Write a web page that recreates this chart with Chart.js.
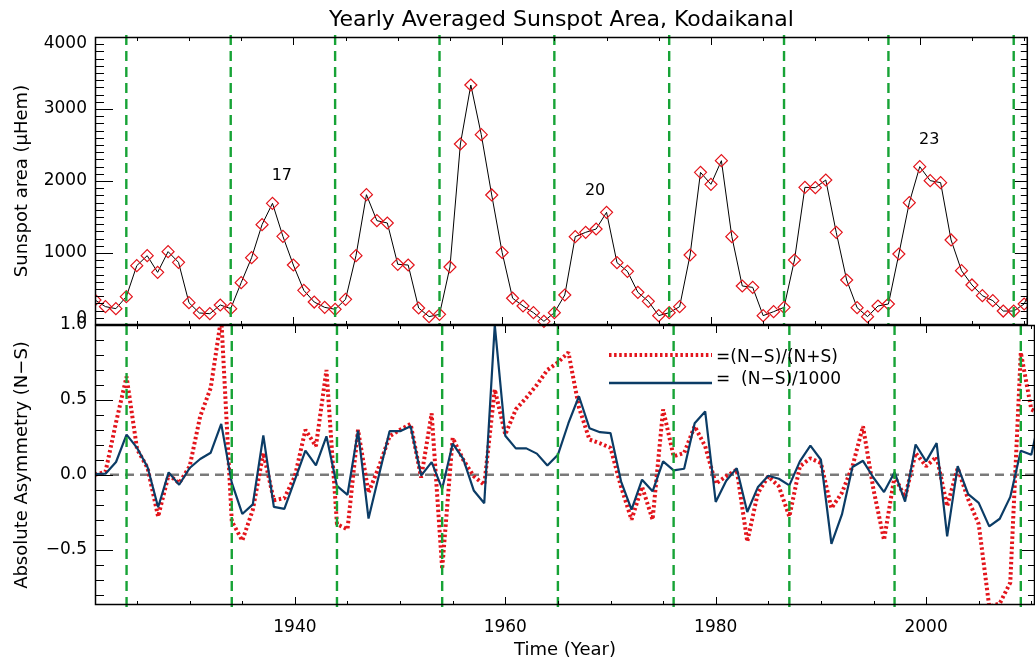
<!DOCTYPE html>
<html>
<head>
<meta charset="utf-8">
<script src="https://cdn.jsdelivr.net/npm/chart.js@4.4.0/dist/chart.umd.min.js"></script>
<style>
html, body { margin: 0; padding: 0; background: #ffffff; }
#wrap { position: relative; width: 1035px; height: 662px; overflow: hidden; }
#wrap canvas { position: absolute; left: 0; top: 0; }
</style>
</head>
<body>
<div id="wrap">
  <canvas id="top" width="1035" height="662"></canvas>
  <canvas id="bottom" width="1035" height="662"></canvas>
</div>
<script>
// ---------------- DATA ----------------
const years = [1921,1922,1923,1924,1925,1926,1927,1928,1929,1930,
  1931,1932,1933,1934,1935,1936,1937,1938,1939,1940,
  1941,1942,1943,1944,1945,1946,1947,1948,1949,1950,
  1951,1952,1953,1954,1955,1956,1957,1958,1959,1960,
  1961,1962,1963,1964,1965,1966,1967,1968,1969,1970,
  1971,1972,1973,1974,1975,1976,1977,1978,1979,1980,
  1981,1982,1983,1984,1985,1986,1987,1988,1989,1990,
  1991,1992,1993,1994,1995,1996,1997,1998,1999,2000,
  2001,2002,2003,2004,2005,2006,2007,2008,2009,2010,2011];

// Yearly averaged sunspot area (micro-hemispheres)
const sunspotArea = [347,255,227,394,824,963,731,1019,870,310,
  167,157,278,227,588,935,1394,1690,1231,833,
  481,319,245,218,356,963,1810,1449,1417,843,
  833,236,116,148,806,2514,3333,2644,1806,1007,
  372,264,171,51,171,417,1227,1287,1333,1565,
  866,745,454,329,130,171,255,972,2120,1954,
  2282,1227,542,523,130,185,245,903,1912,1907,
  2014,1287,625,241,116,264,292,986,1699,2199,
  2005,1977,1181,755,556,407,338,194,194,292,600];

// Normalised asymmetry (N-S)/(N+S)
const normAsym = [0.0,0.02,0.35,0.655,0.17,0.045,-0.28,0.0,-0.056,0.056,
  0.39,0.58,1.05,-0.31,-0.44,-0.235,0.145,-0.17,-0.157,-0.01,
  0.30,0.19,0.70,-0.33,-0.365,0.30,-0.12,0.055,0.257,0.30,
  0.34,-0.02,0.41,-0.63,0.246,0.10,-0.01,-0.067,0.57,0.268,
  0.436,0.515,0.60,0.70,0.75,0.817,0.45,0.235,0.21,0.18,
  -0.08,-0.30,-0.08,-0.30,0.436,0.123,0.145,0.324,0.19,-0.06,
  -0.01,0.034,-0.447,-0.123,-0.011,-0.078,-0.28,0.056,0.11,0.078,
  -0.224,-0.12,0.056,0.324,-0.10,-0.436,-0.011,-0.15,0.145,0.056,
  0.12,-0.21,0.045,-0.165,-0.33,-0.88,-0.86,-0.72,0.817,0.436,0.40];

// Absolute asymmetry (N-S)/1000
const absAsym = [0.005,0.007,0.085,0.268,0.179,0.05,-0.217,0.016,-0.067,0.045,
  0.105,0.147,0.34,-0.053,-0.262,-0.198,0.262,-0.215,-0.228,-0.035,
  0.161,0.063,0.257,-0.075,-0.134,0.295,-0.293,0.0,0.291,0.291,
  0.324,-0.006,0.084,-0.094,0.208,0.106,-0.105,-0.19,1.0,0.26,
  0.176,0.176,0.141,0.061,0.133,0.344,0.524,0.311,0.284,0.278,
  -0.044,-0.233,-0.033,-0.111,0.089,0.029,0.04,0.344,0.423,-0.182,
  -0.04,0.044,-0.249,-0.084,-0.007,-0.027,-0.071,0.089,0.194,0.10,
  -0.461,-0.265,0.052,0.093,-0.02,-0.116,0.017,-0.179,0.202,0.089,
  0.211,-0.412,0.058,-0.13,-0.188,-0.345,-0.294,-0.148,0.16,0.134,0.45];

// Solar cycle minima (green dashed lines)
const cycleMinima = [1924,1934,1944,1954,1965,1976,1987,1997,2009];

// Cycle number annotations
const cycleLabels = ['17','20','23'];
const cycleLabelYears = [1938.9, 1968.9, 2000.9];
const cycleLabelValues = [2070, 1860, 2570];

// Tick labels
const xTickLabels = [1940, 1960, 1980, 2000];
const areaTickLabels = [0, 1000, 2000, 3000, 4000];
const asymTickLabels = [-0.5, 0.0, 0.5, 1.0];

const legendTexts = ['=(N\u2212S)/(N+S)', '=  (N\u2212S)/1000'];

// ---------------- STYLE ----------------
const FONT = "'DejaVu Sans', 'Liberation Sans', sans-serif";
Chart.defaults.font.family = FONT;
Chart.defaults.color = '#000';
const X_MIN = 1921, X_MAX = 2010.35;
const GREEN = '#17a336';
const RED = '#e3141b';
const BLUE = '#0b3c66';

function frameAndTicks(chart, yMinor, yMajor) {
  const {ctx, chartArea: a, scales: {x, y}} = chart;
  ctx.save();
  ctx.strokeStyle = '#000';
  ctx.lineWidth = 1;
  ctx.beginPath();
  for (let v = 1925; v <= x.max; v += 5) {
    const px = Math.round(x.getPixelForValue(v)) + 0.5;
    const len = xTickLabels.includes(v) ? 8 : 4;
    ctx.moveTo(px, a.bottom); ctx.lineTo(px, a.bottom - len);
    ctx.moveTo(px, a.top); ctx.lineTo(px, a.top + len);
  }
  const kMin = Math.ceil(y.min / yMinor - 1e-9), kMax = Math.floor(y.max / yMinor + 1e-9);
  const ratio = Math.round(yMajor / yMinor);
  for (let k = kMin; k <= kMax; k++) {
    const py = Math.round(y.getPixelForValue(k * yMinor)) + 0.5;
    const major = (k % ratio === 0);
    ctx.moveTo(a.left, py); ctx.lineTo(a.left + (major ? 18 : 9), py);
    ctx.moveTo(a.right, py); ctx.lineTo(a.right - (major ? 13 : 7), py);
  }
  ctx.stroke();
  ctx.lineWidth = 1.5;
  ctx.strokeRect(a.left + 0.5, a.top + 0.5, a.right - a.left - 1, a.bottom - a.top - 1);
  ctx.restore();
}

function greenLines(chart, extTop, extBottom) {
  const {ctx, chartArea: a, scales: {x}} = chart;
  ctx.save();
  ctx.strokeStyle = GREEN;
  ctx.lineWidth = 2.4;
  ctx.setLineDash([10, 6]);
  cycleMinima.forEach(yr => {
    const px = x.getPixelForValue(yr);
    ctx.beginPath();
    ctx.moveTo(px, a.top - extTop);
    ctx.lineTo(px, a.bottom + extBottom);
    ctx.stroke();
  });
  ctx.restore();
}

const topPlugin = {
  id: 'topPanel',
  afterDatasetsDraw(chart) {
    greenLines(chart, 2, 0);
    const {ctx, scales: {x, y}} = chart;
    ctx.save();
    ctx.fillStyle = '#000';
    ctx.font = '16px ' + FONT;
    ctx.textAlign = 'center';
    ctx.textBaseline = 'middle';
    cycleLabels.forEach((t, i) => {
      ctx.fillText(t, x.getPixelForValue(cycleLabelYears[i]), y.getPixelForValue(cycleLabelValues[i]));
    });
    ctx.restore();
  },
  afterDraw(chart) { frameAndTicks(chart, 100, 1000); }
};

const bottomPlugin = {
  id: 'bottomPanel',
  beforeDatasetsDraw(chart) {
    const {ctx, chartArea: a, scales: {y}} = chart;
    const py = y.getPixelForValue(0);
    ctx.save();
    ctx.strokeStyle = '#7a7a7a';
    ctx.lineWidth = 2.4;
    ctx.setLineDash([9, 6]);
    ctx.beginPath();
    ctx.moveTo(a.left, py); ctx.lineTo(a.right, py);
    ctx.stroke();
    ctx.restore();
  },
  afterDatasetsDraw(chart) {
    greenLines(chart, 0, 3);
    const {ctx, chartArea: a} = chart;
    const x0 = a.left + 514, x1 = a.left + 617, tx = a.left + 621;
    ctx.save();
    ctx.lineCap = 'butt';
    ctx.strokeStyle = RED;
    ctx.lineWidth = 4;
    ctx.setLineDash([2.5, 2.6]);
    ctx.beginPath(); ctx.moveTo(x0, a.top + 30); ctx.lineTo(x1, a.top + 30); ctx.stroke();
    ctx.setLineDash([]);
    ctx.strokeStyle = BLUE;
    ctx.lineWidth = 2.4;
    ctx.beginPath(); ctx.moveTo(x0, a.top + 58); ctx.lineTo(x1, a.top + 58); ctx.stroke();
    ctx.fillStyle = '#000';
    ctx.font = '17px ' + FONT;
    ctx.textAlign = 'left';
    ctx.textBaseline = 'middle';
    ctx.fillText(legendTexts[0], tx, a.top + 33);
    ctx.fillText(legendTexts[1], tx, a.top + 55);
    ctx.restore();
  },
  afterDraw(chart) { frameAndTicks(chart, 0.1, 0.5); }
};

const fmtAsym = v => Number(v).toFixed(1).replace('-', '\u2212');
// end labels of the area axis are nudged inward (as in the original)
const fmtArea = v => v === areaTickLabels[0] ? [String(v), ''] :
  (v === areaTickLabels[areaTickLabels.length - 1] ? ['', String(v)] : String(v));

// ---------------- TOP PANEL ----------------
new Chart(document.getElementById('top'), {
  type: 'line',
  data: {
    datasets: [{
      data: years.map((yr, i) => ({x: yr, y: sunspotArea[i]})),
      borderColor: '#000',
      borderWidth: 1,
      tension: 0,
      pointStyle: 'rectRot',
      pointRadius: 6,
      pointBorderColor: RED,
      pointBackgroundColor: 'rgba(0,0,0,0)',
      pointBorderWidth: 1.2,
      clip: {left: 0, top: 0, right: 0, bottom: 6}
    }]
  },
  options: {
    responsive: false,
    animation: false,
    devicePixelRatio: 1,
    events: [],
    layout: {padding: {left: 0, right: 0, top: 0, bottom: 337}},
    plugins: {
      legend: {display: false},
      tooltip: {enabled: false},
      title: {
        display: true,
        text: 'Yearly Averaged Sunspot Area, Kodaikanal',
        fullSize: false,
        color: '#000',
        font: {size: 22, weight: 'normal', family: FONT},
        padding: {top: 7, bottom: 3.6}
      }
    },
    scales: {
      x: {type: 'linear', display: false, min: X_MIN, max: X_MAX},
      y: {
        type: 'linear', min: 0, max: 4000,
        grid: {display: false, drawTicks: false},
        border: {display: false},
        afterBuildTicks: s => { s.ticks = areaTickLabels.map(v => ({value: v})); },
        ticks: {padding: 8, font: {size: 17, lineHeight: 0.8}, color: '#000', callback: fmtArea},
        title: {display: true, text: 'Sunspot area (\u03bcHem)', color: '#000', font: {size: 18}, padding: {top: 12, bottom: 0}},
        afterFit: s => { s.width = 95; }
      }
    }
  },
  plugins: [topPlugin]
});

// ---------------- BOTTOM PANEL ----------------
new Chart(document.getElementById('bottom'), {
  type: 'line',
  data: {
    datasets: [{
      label: '(N-S)/1000',
      data: years.map((yr, i) => ({x: yr, y: absAsym[i]})),
      borderColor: BLUE,
      borderWidth: 2.2,
      borderJoinStyle: 'bevel',
      tension: 0,
      pointRadius: 0,
      order: 0
    }, {
      label: '(N-S)/(N+S)',
      data: years.map((yr, i) => ({x: yr, y: normAsym[i]})),
      borderColor: RED,
      borderWidth: 4,
      borderDash: [2.5, 2.6],
      borderCapStyle: 'butt',
      borderJoinStyle: 'bevel',
      tension: 0,
      pointRadius: 0,
      order: 1
    }]
  },
  options: {
    responsive: false,
    animation: false,
    devicePixelRatio: 1,
    events: [],
    layout: {padding: {left: 0, right: 0, top: 325, bottom: 0}},
    plugins: {legend: {display: false}, tooltip: {enabled: false}},
    scales: {
      x: {
        type: 'linear', min: X_MIN, max: X_MAX,
        grid: {display: false, drawTicks: false},
        border: {display: false},
        afterBuildTicks: s => { s.ticks = xTickLabels.map(v => ({value: v})); },
        ticks: {padding: 12, font: {size: 17}, color: '#000', maxRotation: 0, autoSkip: false, callback: v => String(v)},
        title: {display: true, text: 'Time (Year)', color: '#000', font: {size: 18}, padding: {top: 0, bottom: 1}},
        afterFit: s => { s.height = 57; }
      },
      y: {
        type: 'linear', min: -0.87, max: 1.0,
        grid: {display: false, drawTicks: false},
        border: {display: false},
        afterBuildTicks: s => { s.ticks = asymTickLabels.map(v => ({value: v})); },
        ticks: {padding: 8, font: {size: 17}, color: '#000', callback: fmtAsym},
        title: {display: true, text: 'Absolute Asymmetry (N\u2212S)', color: '#000', font: {size: 18}, padding: {top: 12, bottom: 0}},
        afterFit: s => { s.width = 95; }
      }
    }
  },
  plugins: [bottomPlugin]
});
</script>
</body>
</html>
